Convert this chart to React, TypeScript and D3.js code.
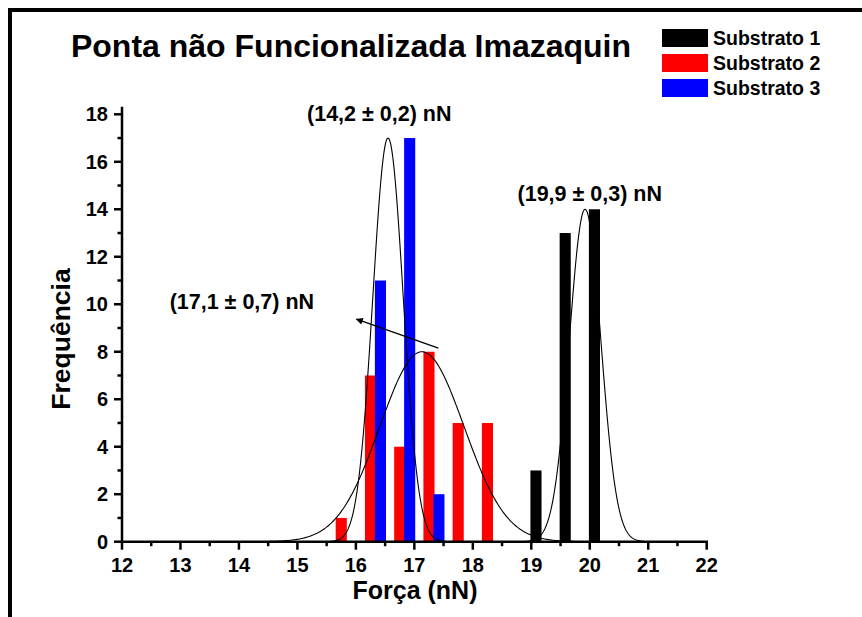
import React from "react";
import * as d3 from "d3";

// ---- data ----
const substrato1X = [19.08, 19.58, 20.08];
const substrato1Y = [3, 13, 14];
const substrato2X = [15.75, 16.25, 16.75, 17.25, 17.75, 18.25];
const substrato2Y = [1, 7, 4, 8, 5, 5];
const substrato3X = [16.42, 16.92, 17.42];
const substrato3Y = [11, 17, 2];

// Gaussian fit parameters: [center, sigma, amplitude]
const fitCenters = [19.92, 17.13, 16.55];
const fitSigmas = [0.27, 0.72, 0.26];
const fitAmplitudes = [14, 8, 17];

const xTicks = [12, 13, 14, 15, 16, 17, 18, 19, 20, 21, 22];
const yTicks = [0, 2, 4, 6, 8, 10, 12, 14, 16, 18];

const legendLabels = ["Substrato 1", "Substrato 2", "Substrato 3"];
const seriesColors = ["#000000", "#ff0000", "#0000ff"];

const annotationTexts = ["(14,2 ± 0,2) nN", "(17,1 ± 0,7) nN", "(19,9 ± 0,3) nN"];
const annotationX = [16.4, 14.05, 20.0];
const annotationY = [17.72, 9.82, 14.35];
const arrowFrom = [17.41, 8.15];
const arrowTo = [16.01, 9.37];

const FONT = "'Liberation Sans', Arial, Helvetica, sans-serif";

export default function App() {
  const W = 862;
  const H = 617;
  const x = d3.scaleLinear().domain([12, 22]).range([122, 706.7]);
  const y = d3.scaleLinear().domain([0, 18]).range([541.7, 114.3]);
  const barW = x(12.19) - x(12);

  const series = [
    { xs: substrato2X, ys: substrato2Y, color: seriesColors[1] },
    { xs: substrato3X, ys: substrato3Y, color: seriesColors[2] },
    { xs: substrato1X, ys: substrato1Y, color: seriesColors[0] },
  ];

  const line = d3
    .line<[number, number]>()
    .x((d) => x(d[0]))
    .y((d) => y(d[1]))
    .curve(d3.curveLinear);

  const curves = fitCenters.map((mu, i) => {
    const s = fitSigmas[i];
    const a = fitAmplitudes[i];
    const lo = Math.max(12, mu - 4.2 * s);
    const hi = Math.min(22, mu + 4.2 * s);
    const pts: [number, number][] = d3
      .range(0, 301)
      .map((k) => lo + ((hi - lo) * k) / 300)
      .map((v) => [v, a * Math.exp(-((v - mu) ** 2) / (2 * s * s))]);
    return line(pts) || "";
  });

  const minorX = d3.range(12.5, 22, 1);
  const minorY = d3.range(1, 19, 2);
  const axisTop = y(18.32);

  return (
    <svg
      width={W}
      height={H}
      style={{ position: "absolute", left: 0, top: 0, display: "block", background: "#fff" }}
      fontFamily={FONT}
    >
      <rect x={0} y={0} width={W} height={H} fill="#fff" />
      {/* outer frame */}
      <path d={`M10,${H + 5} L10,10 L${W + 5},10`} fill="none" stroke="#000" strokeWidth={4} />

      {/* title */}
      <text x={351} y={57} textAnchor="middle" fontSize={32} fontWeight="bold" fill="#000">
        Ponta não Funcionalizada Imazaquin
      </text>

      {/* legend */}
      {legendLabels.map((l, i) => (
        <g key={l}>
          <rect x={662} y={29 + i * 25} width={46} height={18} fill={seriesColors[i]} />
          <text x={713} y={45 + i * 25} fontSize={19.5} fontWeight="bold" fill="#000">
            {l}
          </text>
        </g>
      ))}

      {/* bars */}
      {series.map((s, si) =>
        s.xs.map((xv, i) => (
          <rect
            key={`${si}-${i}`}
            x={x(xv) - barW / 2}
            y={y(s.ys[i])}
            width={barW}
            height={y(0) - y(s.ys[i])}
            fill={s.color}
          />
        ))
      )}

      {/* fit curves */}
      {curves.map((d, i) => (
        <path key={i} d={d} fill="none" stroke="#000" strokeWidth={1.1} />
      ))}

      {/* axes */}
      <line x1={x(12)} x2={x(12)} y1={axisTop} y2={y(0) + 1.25} stroke="#000" strokeWidth={2.5} />
      <line x1={x(12) - 1.25} x2={x(22) + 1.25} y1={y(0)} y2={y(0)} stroke="#000" strokeWidth={2.5} />
      {xTicks.map((t) => (
        <g key={`xt${t}`}>
          <line x1={x(t)} x2={x(t)} y1={y(0)} y2={y(0) + 8} stroke="#000" strokeWidth={2.5} />
          <text x={x(t)} y={572} textAnchor="middle" fontSize={20} fontWeight="bold" fill="#000">
            {t}
          </text>
        </g>
      ))}
      {minorX.map((t) => (
        <line key={`xm${t}`} x1={x(t)} x2={x(t)} y1={y(0)} y2={y(0) + 4.5} stroke="#000" strokeWidth={2.5} />
      ))}
      {yTicks.map((t) => (
        <g key={`yt${t}`}>
          <line x1={x(12) - 8} x2={x(12)} y1={y(t)} y2={y(t)} stroke="#000" strokeWidth={2.5} />
          <text x={108} y={y(t) + 7} textAnchor="end" fontSize={20} fontWeight="bold" fill="#000">
            {t}
          </text>
        </g>
      ))}
      {minorY.map((t) => (
        <line key={`ym${t}`} x1={x(12) - 4.5} x2={x(12)} y1={y(t)} y2={y(t)} stroke="#000" strokeWidth={2.5} />
      ))}

      {/* axis titles */}
      <text x={415} y={599} textAnchor="middle" fontSize={25} fontWeight="bold" fill="#000">
        Força (nN)
      </text>
      <text
        transform={`translate(70,339) rotate(-90)`}
        textAnchor="middle"
        fontSize={26.5}
        fontWeight="bold"
        fill="#000"
      >
        Frequência
      </text>

      {/* annotations */}
      {annotationTexts.map((t, i) => (
        <text
          key={t}
          x={x(annotationX[i])}
          y={y(annotationY[i])}
          textAnchor="middle"
          fontSize={21.5}
          fontWeight="bold"
          fill="#000"
        >
          {t}
        </text>
      ))}
      <defs>
        <marker id="ah" viewBox="0 0 10 10" refX={9} refY={5} markerWidth={9} markerHeight={7} orient="auto" markerUnits="userSpaceOnUse">
          <path d="M0,0 L10,5 L0,10 z" fill="#000" />
        </marker>
      </defs>
      <line
        x1={x(arrowFrom[0])}
        y1={y(arrowFrom[1])}
        x2={x(arrowTo[0])}
        y2={y(arrowTo[1])}
        stroke="#000"
        strokeWidth={1.3}
        markerEnd="url(#ah)"
      />
    </svg>
  );
}
